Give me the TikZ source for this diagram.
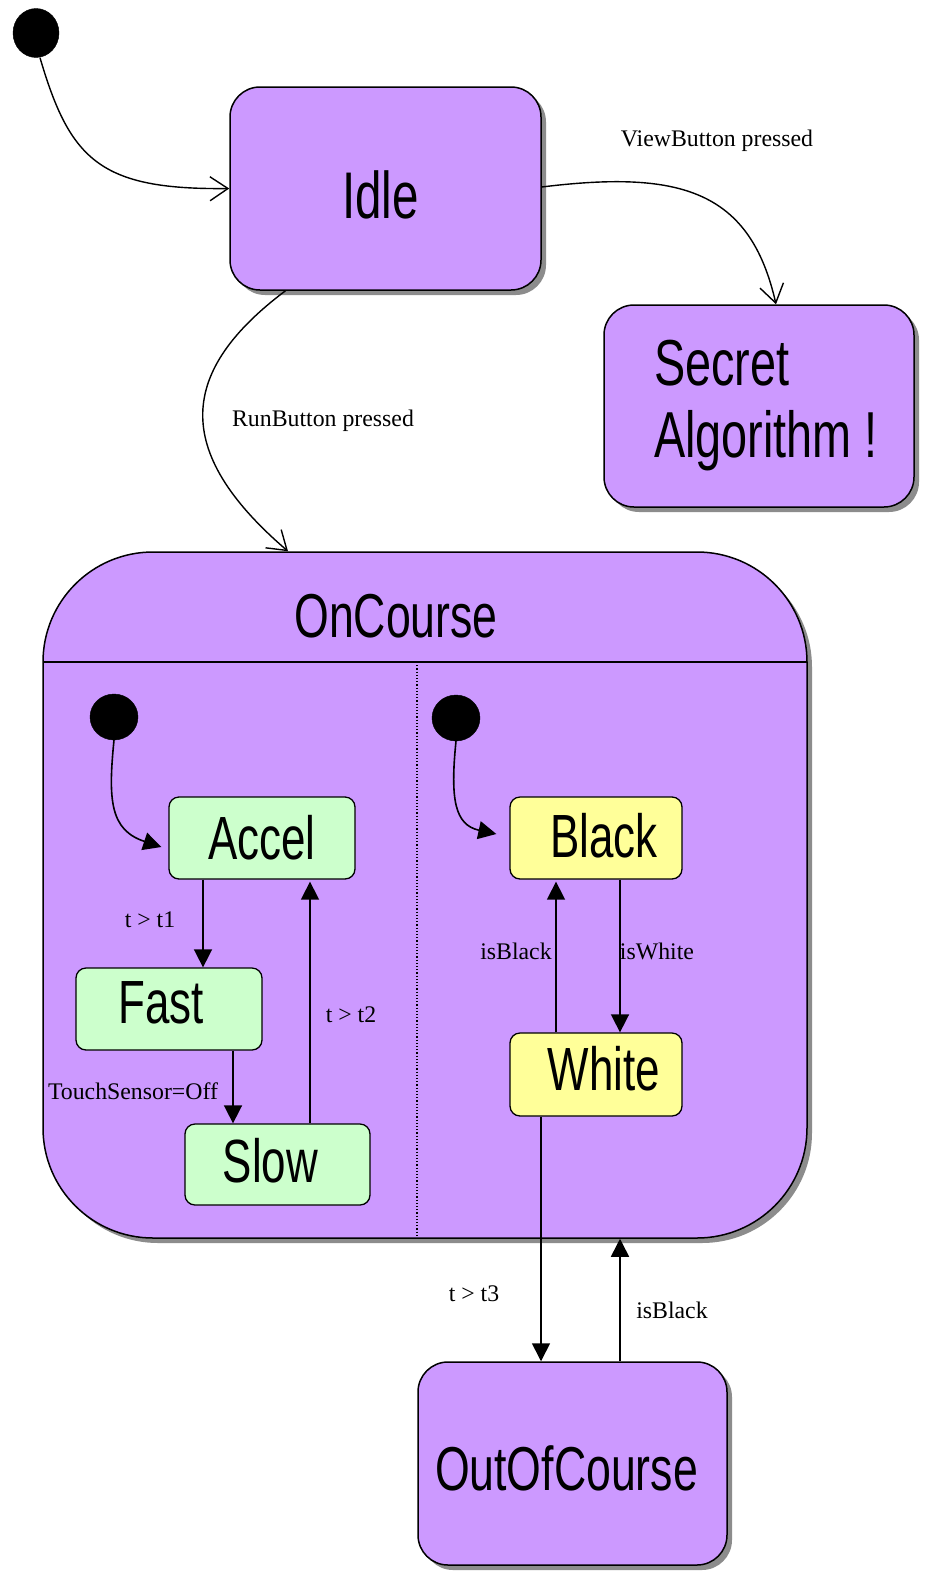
\documentclass[tikz,border=0pt]{standalone}
\usepackage{fontspec}
\setmainfont{Liberation Serif}
\newfontfamily\statefont[FakeStretch=0.72]{Liberation Sans}
\usetikzlibrary{shapes.geometric,arrows.meta,calc,shadows}
\definecolor{purp}{HTML}{CC99FF}
\definecolor{mint}{HTML}{CCFFCC}
\definecolor{lemon}{HTML}{FFFF99}
\begin{document}
\begin{tikzpicture}[x=1pt,y=-1pt,
  bigstate/.style={draw, line width=1.5pt, fill=purp, rounded corners=30pt, inner sep=0pt,
    drop shadow={shadow xshift=5pt, shadow yshift=-5pt, fill=black!45, opacity=1}},
  smallstate/.style={draw, line width=1.3pt, rounded corners=10pt, inner sep=0pt},
  bigtext/.style={font=\statefont\fontsize{64}{72}\selectfont, inner sep=0pt},
  smalltext/.style={font=\statefont\fontsize{61}{66}\selectfont, inner sep=0pt},
  initdot/.style={ellipse, fill=black, draw, inner sep=0pt},
  lbl/.style={font=\fontsize{23.8}{28}\selectfont, inner sep=0pt},
  opena/.style={-{Straight Barb[length=18pt,width=24pt,line width=1.4pt]}, line width=1.4pt},
  filla/.style={-{Triangle[length=18pt,width=18pt]}, line width=1.6pt}]
\fill[white] (0,0) rectangle (935,1593);
\useasboundingbox (0,0) rectangle (935,1593);

% top level
\node[initdot, minimum width=46pt, minimum height=49pt] (init0) at (36,33) {};
\node[bigstate, minimum width=311pt, minimum height=203pt,
  label={[bigtext, font=\statefont\fontsize{66}{72}\selectfont, xshift=-5pt, yshift=-6pt]center:Idle}] (idle) at (385.5,188.5) {};
\node[bigstate, minimum width=310pt, minimum height=202pt,
  label={[bigtext, align=left, font=\statefont\fontsize{65}{72}\selectfont, xshift=7pt]center:Secret\\Algorithm !}] (secret) at (759,406) {};

% composite state
\node[draw, line width=1.5pt, fill=purp, rounded corners=110pt, minimum width=764pt, minimum height=686pt,
  drop shadow={shadow xshift=5pt, shadow yshift=-5pt, fill=black!45, opacity=1}] (oncourse) at (425,895) {};
\node[bigtext, font=\statefont\fontsize{62}{70}\selectfont] (octitle) at (396,616) {OnCourse};
\coordinate (hl) at (43,662);
\coordinate (hr) at (807,662);
\coordinate (dt) at (417,662);
\draw[line width=1.3pt] (hl) -- (hr);
\draw[line width=1.2pt, dotted] (dt) -- (dt |- oncourse.south);

\node[bigstate, minimum width=309pt, minimum height=203pt,
  label={[bigtext, font=\statefont\fontsize{62}{70}\selectfont, xshift=-6pt, yshift=-5pt]center:OutOfCourse}] (outof) at (572.5,1463.5) {};

% left region
\node[initdot, minimum width=48pt, minimum height=46pt] (initL) at (114,717) {};
\node[smallstate, fill=mint, minimum width=186pt, minimum height=82pt,
  label={[smalltext]center:Accel}] (accel) at (262,838) {};
\node[smallstate, fill=mint, minimum width=186pt, minimum height=82pt,
  label={[smalltext, xshift=-8pt, yshift=6pt]center:Fast}] (fast) at (169,1009) {};
\node[smallstate, fill=mint, minimum width=185pt, minimum height=81pt,
  label={[smalltext, xshift=-7pt, yshift=4pt]center:Slow}] (slow) at (277.5,1164.5) {};

% right region
\node[initdot, minimum width=48pt, minimum height=46pt] (initR) at (456,718) {};
\node[smallstate, fill=lemon, minimum width=172pt, minimum height=82pt,
  label={[smalltext, xshift=8pt, yshift=2pt]center:Black}] (black) at (596,838) {};
\node[smallstate, fill=lemon, minimum width=172pt, minimum height=83pt,
  label={[smalltext, xshift=8pt, yshift=6pt]center:White}] (white) at (596,1074.5) {};

% top-level transitions
\draw[opena] ([xshift=4pt]init0.south) .. controls (70,160) and (100,190) .. (idle.west);
\draw[opena] ([yshift=1.5pt]idle.east) .. controls (680,170) and (750,190) .. ($(secret.north)+(17,0)$);
\draw[opena] ($(idle.south)+(-100,0)$) .. controls (180,370) and (170,450) .. ($(oncourse.north)+(-137,0)$);
\node[lbl] (lview) at (717,141) {ViewButton pressed};
\node[lbl] (lrun) at (323,421) {RunButton pressed};

% inner transitions
\draw[filla] (initL.south) .. controls (108,800) and (110,830) .. ($(accel.west)+(-7,9)$);
\draw[filla] (initR.south) .. controls (450,800) and (455,825) .. ($(black.west)+(-13,-4)$);
\draw[filla] ($(accel.south)+(-59,0)$) -- ($(fast.north)+(34,0)$);
\draw[filla] ($(fast.south)+(64,0)$) -- ($(slow.north)+(-44.5,0)$);
\draw[filla] ($(slow.north)+(32.5,0)$) -- ($(accel.south)+(48,2)$);
\draw[filla] ($(white.north)+(-40,0)$) -- ($(black.south)+(-40,2)$);
\draw[filla] ($(black.south)+(24,0)$) -- ($(white.north)+(24,0)$);
\draw[filla] ($(white.south)+(-55,0)$) -- ($(outof.north)+(-31.5,0)$);
\draw[filla] ($(outof.north)+(47.5,0)$) -- ($(oncourse.south)+(195,0)$);

\node[lbl] (lt1) at (150,920) {t > t1};
\node[lbl] (ltouch) at (133,1091) {TouchSensor=Off};
\node[lbl] (lt2) at (351,1015) {t > t2};
\node[lbl] (lisb) at (516,951) {isBlack};
\node[lbl] (lisw) at (657,951) {isWhite};
\node[lbl] (lt3) at (474,1294) {t > t3};
\node[lbl] (lisb2) at (672,1310) {isBlack};
\end{tikzpicture}
\end{document}
